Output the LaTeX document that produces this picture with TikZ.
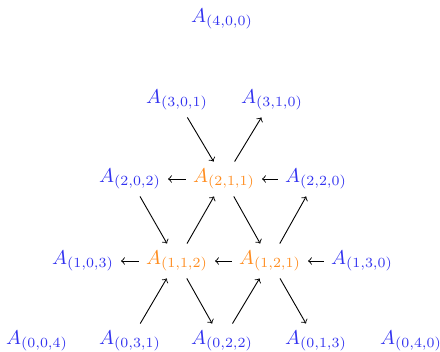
\documentclass[tikz,border=0pt]{standalone}
\definecolor{nblue}{RGB}{50,50,240}
\definecolor{norange}{RGB}{255,140,30}
\begin{document}
\begin{tikzpicture}[x=0.5pt,y=-0.5pt,
  bl/.style={text=nblue},
  og/.style={text=norange},
  ar/.style={->,line width=0.45pt}]
\useasboundingbox (0,0) rectangle (440,352);
\node[bl] (a400) at (222,19) {$A_{(4,0,0)}$};
\node[bl] (a301) at (177,100) {$A_{(3,0,1)}$};
\node[bl] (a310) at (272,100) {$A_{(3,1,0)}$};
\node[bl] (a202) at (130,179) {$A_{(2,0,2)}$};
\node[og] (a211) at (224,179) {$A_{(2,1,1)}$};
\node[bl] (a220) at (316,179) {$A_{(2,2,0)}$};
\node[bl] (a103) at (83,261) {$A_{(1,0,3)}$};
\node[og] (a112) at (177,261) {$A_{(1,1,2)}$};
\node[og] (a121) at (270,261) {$A_{(1,2,1)}$};
\node[bl] (a130) at (362,261) {$A_{(1,3,0)}$};
\node[bl] (a004) at (37,341) {$A_{(0,0,4)}$};
\node[bl] (a031) at (130,341) {$A_{(0,3,1)}$};
\node[bl] (a022) at (222,341) {$A_{(0,2,2)}$};
\node[bl] (a013) at (316,341) {$A_{(0,1,3)}$};
\node[bl] (a040) at (411,341) {$A_{(0,4,0)}$};
\draw[ar] (a301) -- (a211);
\draw[ar] (a211) -- (a310);
\draw[ar] (a211) -- (a202);
\draw[ar] (a220) -- (a211);
\draw[ar] (a202) -- (a112);
\draw[ar] (a112) -- (a211);
\draw[ar] (a211) -- (a121);
\draw[ar] (a121) -- (a220);
\draw[ar] (a112) -- (a103);
\draw[ar] (a121) -- (a112);
\draw[ar] (a130) -- (a121);
\draw[ar] (a031) -- (a112);
\draw[ar] (a112) -- (a022);
\draw[ar] (a022) -- (a121);
\draw[ar] (a121) -- (a013);
\end{tikzpicture}
\end{document}
